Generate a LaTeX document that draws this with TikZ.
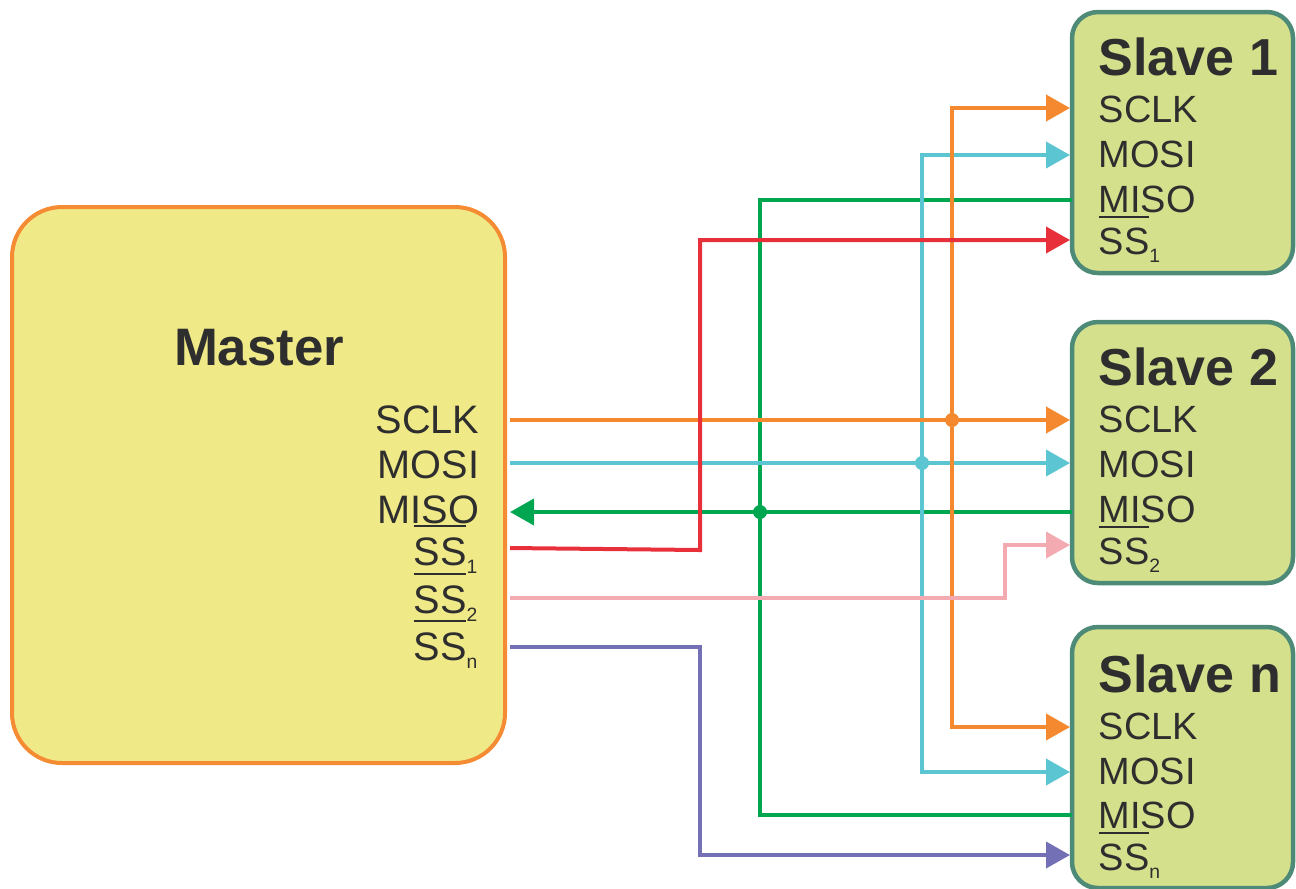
\documentclass[tikz,border=0pt]{standalone}
\usepackage{fontspec}
\setmainfont{Liberation Sans}
\usetikzlibrary{arrows.meta}

\definecolor{txt}{HTML}{2E2E2E}
\definecolor{masterfill}{HTML}{F0E987}
\definecolor{masteredge}{HTML}{F58B33}
\definecolor{slavefill}{HTML}{D4E08B}
\definecolor{slaveedge}{HTML}{4E8A78}
\definecolor{sclkc}{HTML}{F4892F}
\definecolor{mosic}{HTML}{5BC6D1}
\definecolor{misoc}{HTML}{00A650}
\definecolor{ssac}{HTML}{E8303A}
\definecolor{ssbc}{HTML}{F3AAB1}
\definecolor{ssnc}{HTML}{7470B5}

% negated slave select with subscript
\newcommand{\ssbar}[1]{\leavevmode\rlap{\rule[0.96em]{1.33em}{0.55pt}}SS\raisebox{-0.4ex}{\fontsize{5.5}{6}\selectfont #1}}

\tikzset{master/.style={draw=masteredge,fill=masterfill,line width=0.4mm,rounded corners=5mm,
    minimum width=4.93cm,minimum height=5.56cm,inner sep=0},
  slave/.style={draw=slaveedge,fill=slavefill,line width=0.45mm,rounded corners=2.6mm,
    minimum width=2.21cm,minimum height=2.61cm,inner sep=0},
  title/.style={anchor=base west,text=txt,inner sep=0,font=\fontsize{14.8}{15}\selectfont\bfseries},
  mpin/.style={anchor=base east,text=txt,inner sep=0,font=\fontsize{11.3}{12}\selectfont},
  spin/.style={anchor=base west,text=txt,inner sep=0,font=\fontsize{10.8}{12}\selectfont},
  wire/.style={line width=0.4mm},
  dot/.style={circle,inner sep=0,minimum size=1.4mm}}

\begin{document}
\begin{tikzpicture}[>={Triangle[length=2.4mm,width=2.6mm]}]
    \useasboundingbox (0,0) rectangle (12.96,-8.88);

    % boxes
    \node[master] (master) at (2.585,-4.85) {};
    \node[slave] (sa) at (11.825,-1.425) {};
    \node[slave] (sb) at (11.825,-4.525) {};
    \node[slave] (sn) at (11.825,-7.575) {};

    % master texts
    \node[text=txt,inner sep=0,font=\fontsize{15}{16}\selectfont\bfseries,anchor=base] (mtitle) at (2.59,-3.65) {Master};
    \node[mpin] (msclk) at (4.80,-4.33) {SCLK};
    \node[mpin] (mmosi) at (4.80,-4.78) {MOSI};
    \node[mpin] (mmiso) at (4.80,-5.23) {MISO};
    \node[mpin] (mssa) at (4.78,-5.65) {\ssbar{1}};
    \node[mpin] (mssb) at (4.78,-6.13) {\ssbar{2}};
    \node[mpin] (mssn) at (4.78,-6.60) {\ssbar{n}};

    % slave texts
    \node[title] (satitle) at (10.98,-0.75) {Slave 1};
    \node[spin] (sasclk) at (10.98,-1.22) {SCLK};
    \node[spin] (samosi) at (10.98,-1.67) {MOSI};
    \node[spin] (samiso) at (10.98,-2.12) {MISO};
    \node[spin] (sassa) at (10.98,-2.54) {\ssbar{1}};

    \node[title] (sbtitle) at (10.98,-3.85) {Slave 2};
    \node[spin] (sbsclk) at (10.98,-4.32) {SCLK};
    \node[spin] (sbmosi) at (10.98,-4.77) {MOSI};
    \node[spin] (sbmiso) at (10.98,-5.22) {MISO};
    \node[spin] (sbssb) at (10.98,-5.64) {\ssbar{2}};

    \node[title] (sntitle) at (10.98,-6.92) {Slave n};
    \node[spin] (snsclk) at (10.98,-7.39) {SCLK};
    \node[spin] (snmosi) at (10.98,-7.84) {MOSI};
    \node[spin] (snmiso) at (10.98,-8.28) {MISO};
    \node[spin] (snssn) at (10.98,-8.70) {\ssbar{n}};

    % pins on the master
    \coordinate (m-sclk) at (5.10,-4.20);
    \coordinate (m-mosi) at (5.10,-4.63);
    \coordinate (m-miso) at (5.10,-5.12);
    \coordinate (m-ssa) at (5.10,-5.48);
    \coordinate (m-ssb) at (5.10,-5.98);
    \coordinate (m-ssn) at (5.10,-6.47);

    % pins on the slaves
    \coordinate (sa-sclk) at (10.70,-1.08);
    \coordinate (sa-mosi) at (10.70,-1.55);
    \coordinate (sa-miso) at (10.72,-2.00);
    \coordinate (sa-ss) at (10.70,-2.40);
    \coordinate (sb-sclk) at (10.70,-4.20);
    \coordinate (sb-mosi) at (10.70,-4.63);
    \coordinate (sb-miso) at (10.72,-5.12);
    \coordinate (sb-ss) at (10.70,-5.45);
    \coordinate (sn-sclk) at (10.70,-7.27);
    \coordinate (sn-mosi) at (10.70,-7.72);
    \coordinate (sn-miso) at (10.72,-8.15);
    \coordinate (sn-ss) at (10.70,-8.55);

    % bus junctions
    \coordinate (j-sclk) at (9.52,-4.20);
    \coordinate (j-mosi) at (9.22,-4.63);
    \coordinate (j-miso) at (7.60,-5.12);

    % MISO
    \draw[wire,misoc] (sa-miso) -| (j-miso) |- (sn-miso);
    \draw[wire,misoc,->] (sb-miso) -- (m-miso);
    \node[dot,fill=misoc] (d-miso) at (j-miso) {};

    % MOSI
    \draw[wire,mosic,->] (m-mosi) -- (sb-mosi);
    \draw[wire,mosic,->] (j-mosi) |- (sa-mosi);
    \draw[wire,mosic,->] (j-mosi) |- (sn-mosi);
    \node[dot,fill=mosic] (d-mosi) at (j-mosi) {};

    % SCLK
    \draw[wire,sclkc,->] (m-sclk) -- (sb-sclk);
    \draw[wire,sclkc,->] (j-sclk) |- (sa-sclk);
    \draw[wire,sclkc,->] (j-sclk) |- (sn-sclk);
    \node[dot,fill=sclkc] (d-sclk) at (j-sclk) {};

    % slave selects
    \draw[wire,ssac,->] (m-ssa) -- (7.00,-5.50) |- (sa-ss);
    \draw[wire,ssbc,->] (m-ssb) -- (10.05,-5.98) |- (sb-ss);
    \draw[wire,ssnc,->] (m-ssn) -- (7.00,-6.47) |- (sn-ss);
\end{tikzpicture}
\end{document}
